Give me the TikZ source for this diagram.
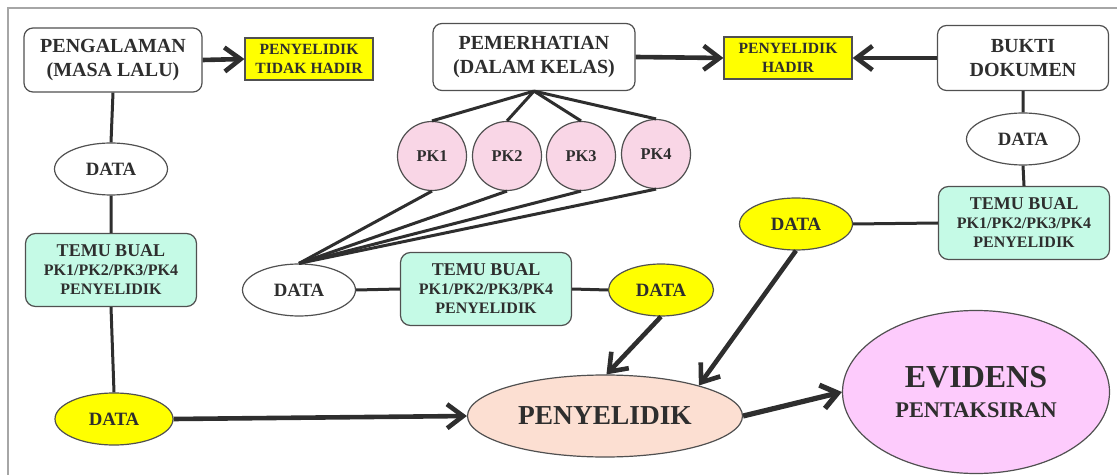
\documentclass[tikz,border=0pt]{standalone}
\usepackage{fontspec}
\setmainfont{Liberation Serif}
\usetikzlibrary{arrows.meta,shapes.geometric}
\definecolor{ink}{HTML}{2E2E2E}
\definecolor{rim}{HTML}{505050}
\definecolor{kuning}{HTML}{FFFF00}
\definecolor{hijau}{HTML}{C5FAE6}
\definecolor{merahjambu}{HTML}{F9D6E6}
\definecolor{salmon}{HTML}{FCDFD2}
\definecolor{ungu}{HTML}{FDCBFC}
\newcommand{\fs}[2]{\fontsize{#1}{#2}\selectfont}

\begin{document}
\begin{tikzpicture}[x=0.5pt,y=-0.5pt,>={Straight Barb[length=8pt,width=12pt]},
    every node/.style={text=ink,align=center,inner sep=0pt},
    kotak/.style={draw=rim,line width=0.6pt,rounded corners=4.5pt,fill=white,font=\bfseries\fs{10}{11.6}},
    kuningbox/.style={draw=rim,line width=0.6pt,fill=kuning,minimum width=64pt,minimum height=21pt,font=\bfseries\fs{7.8}{9.5}},
    temu/.style={draw=rim,line width=0.6pt,rounded corners=5pt,fill=hijau,minimum width=85.5pt,minimum height=36.5pt,font=\bfseries\fs{8}{9.5}},
    dataputih/.style={ellipse,draw=rim,line width=0.6pt,fill=white,minimum width=56.5pt,minimum height=26pt,font=\bfseries\fs{9.4}{11}},
    datakuning/.style={dataputih,fill=kuning},
    pk/.style={circle,draw=rim,line width=0.6pt,fill=merahjambu,minimum size=34.5pt,font=\bfseries\fs{8.2}{10}},
    garis/.style={draw=ink,line width=1.5pt},
    anak/.style={draw=ink,line width=2.3pt,->}]
    \useasboundingbox (0,0) rectangle (1117,475);
    \draw[gray!70,line width=1pt] (8,475) -- (8,8) -- (1117,8);

    % baris atas
    \node[kotak,minimum width=89pt,minimum height=32pt] (pengalaman) at (113,60) {PENGALAMAN\\(MASA LALU)};
    \node[kuningbox] (tidakhadir) at (309,59) {PENYELIDIK\\TIDAK HADIR};
    \node[kotak,minimum width=101pt,minimum height=33.5pt] (pemerhatian) at (534,57) {PEMERHATIAN\\(DALAM KELAS)};
    \node[kuningbox] (hadir) at (788,58) {PENYELIDIK\\HADIR};
    \node[kotak,minimum width=85.5pt,minimum height=32.5pt] (bukti) at (1023,58) {BUKTI\\DOKUMEN};

    % lajur kiri
    \node[dataputih] (data1) at (111,169) {DATA};
    \node[temu] (temu1) at (111,270) {{\fs{9}{9.5}TEMU BUAL}\\PK1/PK2/PK3/PK4\\PENYELIDIK};
    \node[datakuning,minimum width=59pt] (data2) at (114,419) {DATA};

    % tengah
    \foreach \i/\x/\y in {1/432/156,2/507/156,3/581/156,4/656/154}
        \node[pk] (pk\i) at (\x,\y) {PK\i};
    \node[dataputih] (data3) at (299,290) {DATA};
    \node[temu] (temu2) at (486,289) {{\fs{9}{9.5}TEMU BUAL}\\PK1/PK2/PK3/PK4\\PENYELIDIK};
    \node[datakuning,minimum width=52.5pt] (data4) at (661,290) {DATA};

    % lajur kanan
    \node[dataputih] (data5) at (1023,139) {DATA};
    \node[temu] (temu3) at (1024,223) {{\fs{9}{9.5}TEMU BUAL}\\PK1/PK2/PK3/PK4\\PENYELIDIK};
    \node[datakuning] (data6) at (796,224) {DATA};

    % bawah
    \node[ellipse,draw=rim,line width=0.6pt,fill=salmon,minimum width=137.5pt,minimum height=41pt,font=\bfseries\fs{13.7}{15}] (penyelidik) at (605,416) {PENYELIDIK};
    \node[ellipse,draw=rim,line width=0.6pt,fill=ungu,minimum width=133.5pt,minimum height=81.5pt,font=\bfseries\fs{11.2}{14.7}] (evidens) at (976,392) {{\fs{16}{14.7}EVIDENS}\\PENTAKSIRAN};

    % garisan
    \draw[garis] (pengalaman.south) -- (data1.north) (data1.south) -- (temu1.north) (temu1.south) -- (data2.north);
    \foreach \i in {1,...,4}
        \draw[garis] (pemerhatian.south) -- (pk\i.north) (data3.north) -- (pk\i.south);
    \draw[garis] (data3.east) -- (temu2.west) (temu2.east) -- (data4.west);
    \draw[garis] (bukti.south) -- (data5.north) (data5.south) -- (temu3.north) (temu3.west) -- (data6.east);

    % anak panah
    \draw[anak] (pengalaman.east) -- (tidakhadir.west);
    \draw[anak] (pemerhatian.east) -- (hadir.west);
    \draw[anak] (bukti.west) -- (hadir.east);
    \draw[anak] (data2.east) -- (penyelidik.west);
    \draw[anak] (data4.south) -- (penyelidik.88);
    \draw[anak] (data6.south) -- (penyelidik.18);
    \draw[anak,line width=2.6pt] (penyelidik.east) -- (evidens.west);
\end{tikzpicture}
\end{document}
